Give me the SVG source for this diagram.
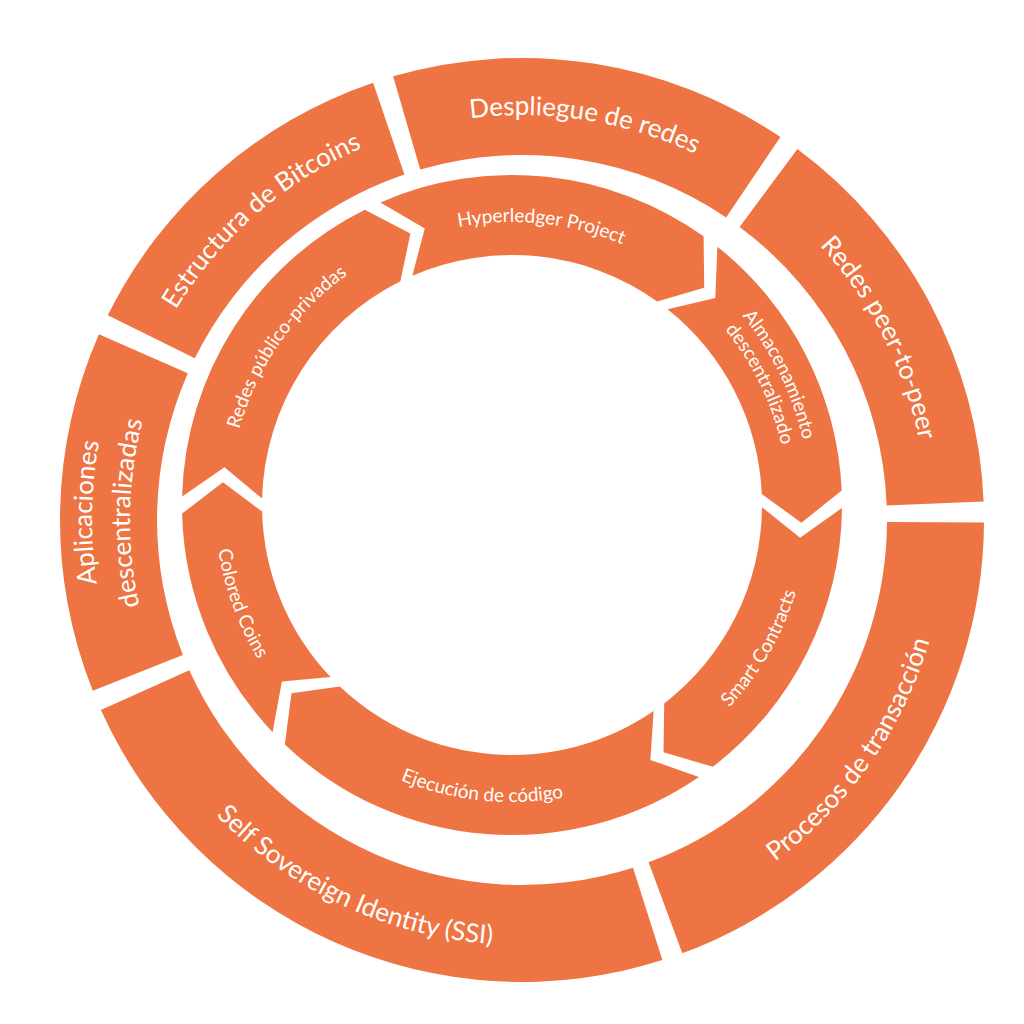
<svg xmlns="http://www.w3.org/2000/svg" xmlns:xlink="http://www.w3.org/1999/xlink" width="1024" height="1024" viewBox="0 0 1024 1024">
<style>
.seg{fill:#EE7543}
.o{font-family:Lato,"Open Sans",sans-serif;font-size:26px;fill:#fff}
.i{font-family:Lato,"Open Sans",sans-serif;font-size:19px;fill:#fff}
</style>
<defs>
<path id="ocw" d="M202.5,-350.7 A405,405 0 0 1 202.5,350.7"/>
<path id="occw" d="M212.5,368.1 A425,425 0 0 0 212.5,-368.1"/>
<path id="oa1" d="M215,-372.4 A430,430 0 0 1 215,372.4"/>
<path id="oa2" d="M196,-339.5 A392,392 0 0 1 196,339.5"/>
<path id="icw" d="M141.5,-245.1 A283,283 0 0 1 141.5,245.1"/>
<path id="iccw" d="M148.5,257.2 A297,297 0 0 0 148.5,-257.2"/>
<path id="ia1" d="M149,-258.1 A298,298 0 0 1 149,258.1"/>
<path id="ia2" d="M138,-239 A276,276 0 0 1 138,239"/>
</defs>
<rect width="1024" height="1024" fill="#fff"/>
<g id="connectors"/>
<g id="despliegue"><path class="seg" d="M393.1,76.3 A462,462 0 0 1 780.4,137 L726.1,217.4 A365,365 0 0 0 420.2,169.5 Z"/>
<g transform="translate(522,520) rotate(-81)"><text class="o" text-anchor="middle"><textPath href="#ocw" startOffset="50%">Despliegue de redes</textPath></text></g></g>
<g id="p2p"><path class="seg" d="M797.4,149.1 A462,462 0 0 1 983.6,501.5 L886.7,505.4 A365,365 0 0 0 739.6,227 Z"/>
<g transform="translate(522,520) rotate(-27)"><text class="o" text-anchor="middle"><textPath href="#ocw" startOffset="50%">Redes peer-to-peer</textPath></text></g></g>
<g id="procesos"><path class="seg" d="M984,522.4 A462,462 0 0 1 682.3,953.3 L648.6,862.3 A365,365 0 0 0 887,521.9 Z"/>
<g transform="translate(522,520) rotate(35)"><text class="o" text-anchor="middle"><textPath href="#occw" startOffset="50%">Procesos de transacción</textPath></text></g></g>
<g id="ssi"><path class="seg" d="M662.4,960.1 A462,462 0 0 1 100.9,710.1 L189.3,670.2 A365,365 0 0 0 633,867.7 Z"/>
<g transform="translate(522,520) rotate(115)"><text class="o" text-anchor="middle"><textPath href="#occw" startOffset="50%">Self Sovereign Identity (SSI)</textPath></text></g></g>
<g id="aplicaciones"><path class="seg" d="M92.8,690.8 A462,462 0 0 1 98.9,334.3 L187.8,373.3 A365,365 0 0 0 182.9,654.9 Z"/>
<g transform="translate(522,520) rotate(181)"><text class="o" text-anchor="middle"><textPath href="#oa1" startOffset="50%">Aplicaciones</textPath></text><text class="o" text-anchor="middle"><textPath href="#oa2" startOffset="50%">descentralizadas</textPath></text></g></g>
<g id="estructura"><path class="seg" d="M107.8,315.3 A462,462 0 0 1 373.1,82.7 L404.4,174.5 A365,365 0 0 0 194.8,358.3 Z"/>
<g transform="translate(522,520) rotate(229)"><text class="o" text-anchor="middle"><textPath href="#ocw" startOffset="50%">Estructura de Bitcoins</textPath></text></g></g>
<g id="hyperledger"><path class="seg" d="M380.4,202.4 A330,330 0 0 1 703.6,236.3 L704.2,287.8 L657.2,301.5 A250,250 0 0 0 412.3,275.7 L424.8,228.4 Z"/>
<g transform="translate(512,505) rotate(-84)"><text class="i" text-anchor="middle"><textPath href="#icw" startOffset="50%">Hyperledger Project</textPath></text></g></g>
<g id="almacenamiento"><path class="seg" d="M717.4,246.7 A330,330 0 0 1 841.7,490.6 L801.4,522.7 L761.8,494.1 A250,250 0 0 0 667.6,309.3 L715.3,298.1 Z"/>
<g transform="translate(512,505) rotate(-26)"><text class="i" text-anchor="middle"><textPath href="#ia1" startOffset="50%">Almacenamiento</textPath></text><text class="i" text-anchor="middle"><textPath href="#ia2" startOffset="50%">descentralizado</textPath></text></g></g>
<g id="smart"><path class="seg" d="M842,507.9 A330,330 0 0 1 712.9,766.8 L663.5,752.3 L664.2,703.4 A250,250 0 0 0 762,507.2 L800.1,537.8 Z"/>
<g transform="translate(512,505) rotate(30)"><text class="i" text-anchor="middle"><textPath href="#iccw" startOffset="50%">Smart Contracts</textPath></text></g></g>
<g id="ejecucion"><path class="seg" d="M698.9,777 A330,330 0 0 1 284.8,744.4 L291.5,693.3 L339.9,686.4 A250,250 0 0 0 653.6,711 L650.4,759.9 Z"/>
<g transform="translate(512,505) rotate(96)"><text class="i" text-anchor="middle"><textPath href="#iccw" startOffset="50%">Ejecución de código</textPath></text></g></g>
<g id="colored"><path class="seg" d="M272.6,732.2 A330,330 0 0 1 182.1,513.6 L222.9,482.2 L262.1,511.6 A250,250 0 0 0 330.6,677.1 L281.9,681.6 Z"/>
<g transform="translate(512,505) rotate(160)"><text class="i" text-anchor="middle"><textPath href="#iccw" startOffset="50%">Colored Coins</textPath></text></g></g>
<g id="publico"><path class="seg" d="M182.1,496.4 A330,330 0 0 1 364.8,209.7 L410.4,233.4 L400.4,281.3 A250,250 0 0 0 262.1,498.5 L224.5,467.2 Z"/>
<g transform="translate(512,505) rotate(215)"><text class="i" text-anchor="middle"><textPath href="#icw" startOffset="50%">Redes público-privadas</textPath></text></g></g>
</svg>
